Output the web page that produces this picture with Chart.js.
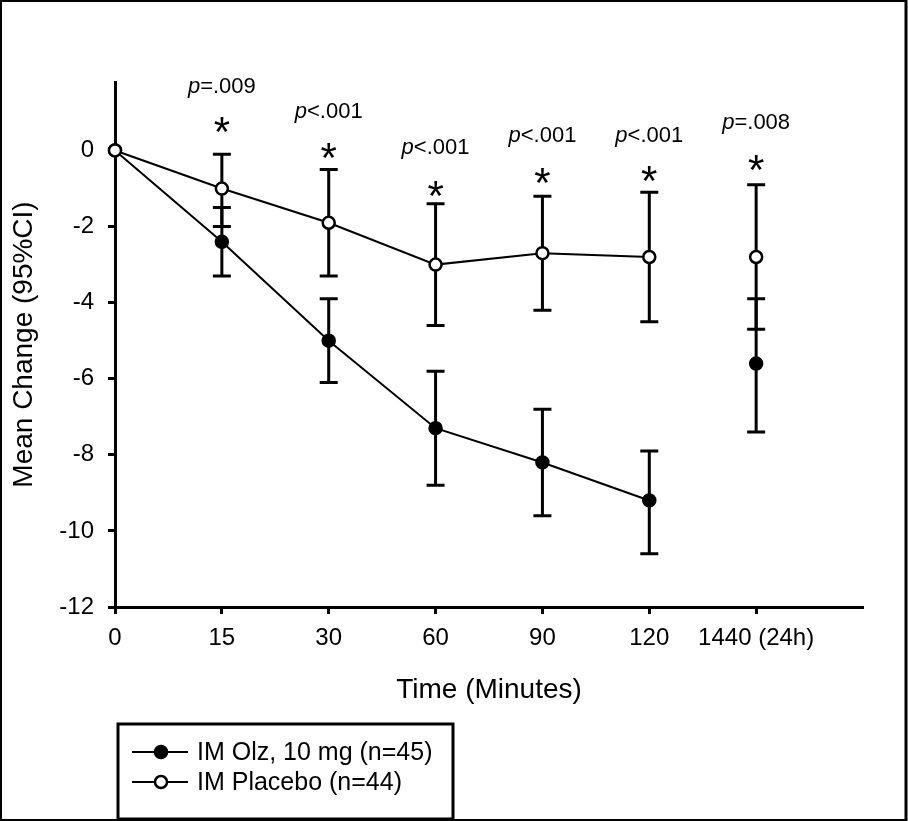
<!DOCTYPE html>
<html>
<head>
<meta charset="utf-8">
<script src="https://cdn.jsdelivr.net/npm/chart.js@4.4.1/dist/chart.umd.min.js"></script>
<style>
  html, body { margin: 0; padding: 0; background: #fff; }
  #box { width: 908px; height: 821px; }
</style>
</head>
<body>
<div id="box"><canvas id="chart" width="908" height="821"></canvas></div>
<script>
// ── Data ─────────────────────────────────────────────────────────────────────
const timeLabels = ['0', '15', '30', '60', '90', '120', '1440 (24h)'];
const yTicks     = [0, -2, -4, -6, -8, -10, -12];

const olzMean = [0, -2.4, -5.0, -7.3, -8.2, -9.2,  -5.6];
const olzLo   = [0, -3.3, -6.1, -8.8, -9.6, -10.6, -7.4];
const olzHi   = [0, -1.5, -3.9, -5.8, -6.8, -7.9,  -3.9];

const pboMean = [0, -1.0, -1.9, -3.0, -2.7, -2.8, -2.8];
const pboLo   = [0, -2.0, -3.3, -4.6, -4.2, -4.5, -4.7];
const pboHi   = [0, -0.1, -0.5, -1.4, -1.2, -1.1, -0.9];

// p-values over each time point, and where they sit (in y units)
const pText  = ['', '=.009', '<.001', '<.001', '<.001', '<.001', '=.008'];
const pY     = [null, 1.72, 1.06, 0.12, 0.43, 0.43, 0.78];
const starY  = [null, 0.75, 0.07, -0.93, -0.59, -0.54, -0.25];

const seriesNames = ['IM Olz, 10 mg (n=45)', 'IM Placebo (n=44)'];

const FONT = '"Liberation Sans", Arial, sans-serif';
const toXY = arr => arr.map((v, i) => ({ x: i, y: v }));

// ── Error bars, drawn under the markers ──────────────────────────────────────
const errorBars = {
  id: 'errorBars',
  beforeDatasetsDraw(chart) {
    const { ctx, scales: { x, y } } = chart;
    ctx.save();
    ctx.strokeStyle = '#000';
    ctx.lineWidth = 3;
    [[olzLo, olzHi], [pboLo, pboHi]].forEach(([lo, hi]) => {
      for (let i = 1; i < lo.length; i++) {
        const px = x.getPixelForValue(i);
        const y0 = y.getPixelForValue(lo[i]);
        const y1 = y.getPixelForValue(hi[i]);
        ctx.beginPath();
        ctx.moveTo(px, y0); ctx.lineTo(px, y1);
        ctx.moveTo(px - 9, y0); ctx.lineTo(px + 9, y0);
        ctx.moveTo(px - 9, y1); ctx.lineTo(px + 9, y1);
        ctx.stroke();
      }
    });
    ctx.restore();
  }
};

// ── Asterisks, p-values, legend box and frame ────────────────────────────────
const extras = {
  id: 'extras',
  afterDraw(chart) {
    const { ctx, scales: { x, y } } = chart;
    ctx.save();
    ctx.fillStyle = '#000';

    for (let i = 1; i < pText.length; i++) {
      const px = x.getPixelForValue(i);

      ctx.font = '42px ' + FONT;
      ctx.textAlign = 'center';
      ctx.textBaseline = 'alphabetic';
      ctx.fillText('*', px, y.getPixelForValue(starY[i]) + 0.57 * 42);

      const base = y.getPixelForValue(pY[i]) + 0.358 * 22;
      ctx.font = 'italic 22px ' + FONT;
      const wp = ctx.measureText('p').width;
      ctx.font = '22px ' + FONT;
      const wr = ctx.measureText(pText[i]).width;
      const left = px - (wp + wr) / 2;
      ctx.textAlign = 'left';
      ctx.font = 'italic 22px ' + FONT;
      ctx.fillText('p', left, base);
      ctx.font = '22px ' + FONT;
      ctx.fillText(pText[i], left + wp, base);
    }

    // legend
    ctx.strokeStyle = '#000';
    ctx.lineWidth = 3;
    ctx.strokeRect(118, 724, 335, 95);
    const rows = [752, 782];
    chart.data.datasets.slice().sort((a, b) => b.order - a.order).forEach((ds, k) => {
      const ry = rows[k];
      ctx.lineWidth = 2;
      ctx.beginPath();
      ctx.moveTo(132, ry); ctx.lineTo(188, ry);
      ctx.stroke();
      ctx.beginPath();
      ctx.arc(161, ry, 6, 0, Math.PI * 2);
      ctx.fillStyle = ds.pointBackgroundColor;
      ctx.fill();
      ctx.lineWidth = 2.5;
      ctx.stroke();
      ctx.fillStyle = '#000';
      ctx.font = '25px ' + FONT;
      ctx.textAlign = 'left';
      ctx.textBaseline = 'middle';
      ctx.fillText(ds.label, 197, ry + 1);
    });

    // outer frame
    ctx.lineWidth = 2;
    ctx.strokeRect(1, 1, 905, 819);
    ctx.lineWidth = 3;
    ctx.beginPath();
    ctx.moveTo(906, 0); ctx.lineTo(906, 821);
    ctx.stroke();
    ctx.restore();
  }
};

const hideLastSegment = ctx => ctx.p1DataIndex === timeLabels.length - 1 ? 'rgba(0,0,0,0)' : '#000';

new Chart(document.getElementById('chart'), {
  type: 'scatter',
  data: {
    datasets: [
      {
        label: seriesNames[1],
        data: toXY(pboMean),
        order: 0,
        showLine: true,
        borderColor: '#000',
        borderWidth: 2,
        pointRadius: 6,
        pointBorderWidth: 2.5,
        pointBorderColor: '#000',
        pointBackgroundColor: '#fff',
        segment: { borderColor: hideLastSegment },
        clip: false,
      },
      {
        label: seriesNames[0],
        data: toXY(olzMean),
        order: 1,
        showLine: true,
        borderColor: '#000',
        borderWidth: 2,
        pointRadius: 6,
        pointBorderWidth: 2.5,
        pointBorderColor: '#000',
        pointBackgroundColor: '#000',
        segment: { borderColor: hideLastSegment },
        clip: false,
      }
    ]
  },
  options: {
    responsive: false,
    animation: false,
    events: [],
    layout: { padding: { left: 4, top: 82, right: 45, bottom: 111 } },
    plugins: {
      legend: { display: false },
      tooltip: { enabled: false },
    },
    scales: {
      x: {
        type: 'linear',
        min: 0,
        max: 7,
        afterBuildTicks: s => { s.ticks = timeLabels.map((_, i) => ({ value: i })); },
        afterFit: s => { s.height = 103; },
        ticks: {
          color: '#000',
          font: { family: FONT, size: 24 },
          padding: 10,
          maxRotation: 0,
          autoSkip: false,
          callback: v => timeLabels[v],
        },
        grid: { drawOnChartArea: false, drawTicks: true, tickLength: 7, tickWidth: 3, tickColor: '#000' },
        border: { display: true, color: '#000', width: 3 },
        title: {
          display: true,
          text: 'Time (Minutes)',
          color: '#000',
          font: { family: FONT, size: 28 },
          padding: { top: 0, bottom: 3 },
        },
      },
      y: {
        min: -12,
        max: 1.8,
        afterBuildTicks: s => { s.ticks = yTicks.map(v => ({ value: v })); },
        afterFit: s => { s.width = 111; },
        ticks: {
          color: '#000',
          font: { family: FONT, size: 24 },
          padding: 14,
          callback: v => String(v),
        },
        grid: { drawOnChartArea: false, drawTicks: true, tickLength: 7, tickWidth: 3, tickColor: '#000' },
        border: { display: true, color: '#000', width: 3 },
        title: {
          display: true,
          text: 'Mean Change (95%CI)',
          color: '#000',
          font: { family: FONT, size: 28 },
          padding: { top: 3, bottom: 0 },
        },
      }
    }
  },
  plugins: [errorBars, extras]
});
</script>
</body>
</html>
